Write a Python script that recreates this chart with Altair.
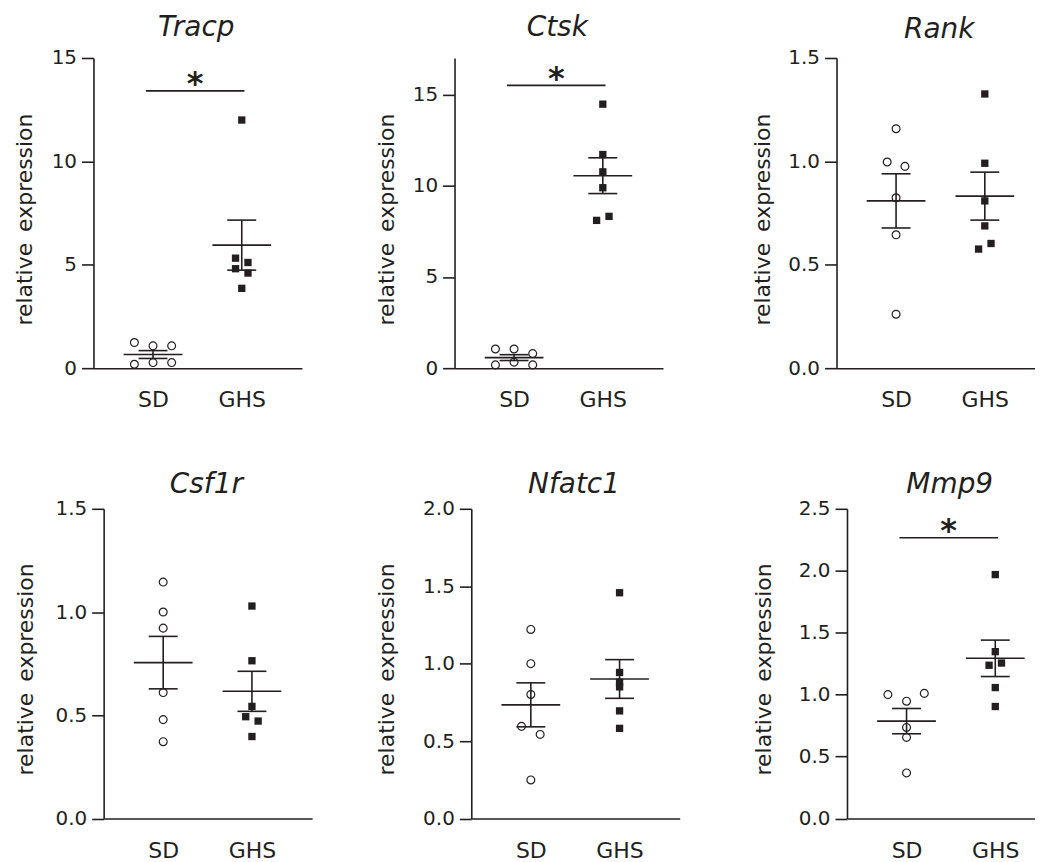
import altair as alt
import pandas as pd

# ---------------- data ----------------
groups = ["SD", "GHS"]
genes = ["Tracp", "Ctsk", "Rank", "Csf1r", "Nfatc1", "Mmp9"]
y_title = "relative\u2002expression"

tracp_sd = [1.24, 1.08, 1.08, 0.19, 0.27, 0.27]
tracp_ghs = [12.0, 5.32, 5.11, 4.81, 4.60, 3.86]
ctsk_sd = [1.05, 1.05, 0.80, 0.18, 0.33, 0.18]
ctsk_ghs = [14.47, 11.71, 10.76, 9.89, 8.10, 8.32]
rank_sd = [1.158, 0.997, 0.976, 0.824, 0.645, 0.261]
rank_ghs = [1.326, 0.991, 0.809, 0.688, 0.576, 0.603]
csf1r_sd = [1.145, 1.0, 0.922, 0.61, 0.479, 0.372]
csf1r_ghs = [1.029, 0.764, 0.543, 0.493, 0.472, 0.397]
nfatc1_sd = [1.221, 1.0, 0.801, 0.595, 0.543, 0.249]
nfatc1_ghs = [1.458, 0.943, 0.88, 0.85, 0.695, 0.582]
mmp9_sd = [1.0, 1.01, 0.947, 0.735, 0.655, 0.368]
mmp9_ghs = [1.969, 1.347, 1.237, 1.255, 1.057, 0.904]

# mean and SEM (SD, GHS) as drawn
tracp_mean, tracp_sem = [0.66, 5.95], [0.19, 1.21]
ctsk_mean, ctsk_sem = [0.58, 10.55], [0.16, 0.98]
rank_mean, rank_sem = [0.809, 0.832], [0.131, 0.116]
csf1r_mean, csf1r_sem = [0.755, 0.616], [0.127, 0.097]
nfatc1_mean, nfatc1_sem = [0.734, 0.901], [0.142, 0.125]
mmp9_mean, mmp9_sem = [0.786, 1.293], [0.102, 0.147]

# significance bar heights (data units)
tracp_sig = 13.41
ctsk_sig = 15.5
mmp9_sig = 2.266

# y axis tick values and axis maxima
tracp_ticks, tracp_max = [0, 5, 10, 15], 15
ctsk_ticks, ctsk_max = [0, 5, 10, 15], 17
rank_ticks, rank_max = [0.0, 0.5, 1.0, 1.5], 1.5
csf1r_ticks, csf1r_max = [0.0, 0.5, 1.0, 1.5], 1.5
nfatc1_ticks, nfatc1_max = [0.0, 0.5, 1.0, 1.5, 2.0], 2.0
mmp9_ticks, mmp9_max = [0.0, 0.5, 1.0, 1.5, 2.0, 2.5], 2.5

# ---------------- layout / style ----------------
# horizontal scatter offsets of the dots (group units), as in the figure
jit_3 = [-0.21, 0.0, 0.21, -0.21, 0.0, 0.21]
jit_none = [0.0] * 6

INK = "#231f20"
FONT = "DejaVu Sans"
XDOM = [-0.671, 1.678]
W = 209
MEAN_HW = 0.331
CAP_HW = 0.163
LW = 1.6


def panel(gene, sd, ghs, jsd, jghs, means, sems, ymax, ticks, fmt,
          title_x, title_y, title_off, height, sig=None):
    pts = pd.DataFrame({
        "gidx": [0] * len(sd) + [1] * len(ghs),
        "jit": jsd + jghs,
        "value": sd + ghs,
    })
    summ = pd.DataFrame({"gidx": [0, 1], "mean": means, "sem": sems})
    lab = pd.DataFrame({"gene": [gene], "ytitle": [y_title]})

    xax = alt.Axis(values=[0, 1],
                   labelExpr=f"datum.value == 0 ? '{groups[0]}' : '{groups[1]}'",
                   title=None, ticks=False, tickSize=0, grid=False,
                   domainColor=INK, domainWidth=LW, labelPadding=21.7,
                   labelFont=FONT, labelFontSize=22, labelColor=INK)
    yax = alt.Axis(values=ticks, format=fmt, grid=False, title=None,
                   domainColor=INK, domainWidth=LW, tickColor=INK, tickWidth=LW,
                   tickSize=12, labelPadding=5, labelFont=FONT, labelFontSize=20,
                   labelColor=INK)

    def X(f):
        return alt.X(f, type="quantitative",
                     scale=alt.Scale(domain=XDOM, nice=False, zero=False), axis=xax)

    def Y(f):
        return alt.Y(f, type="quantitative",
                     scale=alt.Scale(domain=[0, ymax], nice=False, zero=True), axis=yax)

    bp = alt.Chart(pts).transform_calculate(xp="datum.gidx + datum.jit")
    sd_l = bp.transform_filter("datum.gidx == 0").mark_point(
        shape="circle", filled=False, size=62, stroke=INK, strokeWidth=1.2, opacity=1
    ).encode(x=X("xp"), y=Y("value"))
    ghs_l = bp.transform_filter("datum.gidx == 1").mark_point(
        shape="square", filled=True, size=54, fill=INK, opacity=1, strokeWidth=0
    ).encode(x=X("xp"), y=Y("value"))

    bs = alt.Chart(summ).transform_calculate(
        lo="datum.mean - datum.sem", hi="datum.mean + datum.sem",
        ml=f"datum.gidx - {MEAN_HW}", mr=f"datum.gidx + {MEAN_HW}",
        cl=f"datum.gidx - {CAP_HW}", cr=f"datum.gidx + {CAP_HW}")
    rule = dict(color=INK, strokeWidth=LW)
    mean_l = bs.mark_rule(**rule).encode(x=X("ml"), x2="mr", y=Y("mean"))
    hi_l = bs.mark_rule(**rule).encode(x=X("cl"), x2="cr", y=Y("hi"))
    lo_l = bs.mark_rule(**rule).encode(x=X("cl"), x2="cr", y=Y("lo"))
    v_l = bs.mark_rule(**rule).encode(x=X("gidx"), y=Y("lo"), y2="hi")

    lc = alt.Chart(lab)
    gene_t = lc.mark_text(font=FONT, fontSize=28, fontStyle="italic", color=INK,
                          align="center", baseline="alphabetic").encode(
        x=alt.value(W / 2 - 1.5), y=alt.value(-title_off), text="gene:N")
    ytit = lc.mark_text(font=FONT, fontSize=22, color=INK, angle=270,
                        align="center", baseline="alphabetic").encode(
        x=alt.value(title_x), y=alt.value(title_y), text="ytitle:N")

    layers = [sd_l, ghs_l, mean_l, hi_l, lo_l, v_l, gene_t, ytit]
    if sig is not None:
        sdf = pd.DataFrame({"x1": [-0.08], "x2": [1.03], "xm": [0.475], "y": [sig], "t": ["*"]})
        sc = alt.Chart(sdf)
        layers.append(sc.mark_rule(**rule).encode(x=X("x1"), x2="x2", y=Y("y")))
        layers.append(sc.mark_text(font=FONT, fontSize=32, fontWeight="bold",
                                   baseline="alphabetic", align="center", dy=3.5,
                                   color=INK)
                      .encode(x=X("xm"), y=Y("y"), text="t:N"))

    return alt.layer(*layers).properties(width=W, height=height)


p1 = panel(genes[0], tracp_sd, tracp_ghs, jit_3, [0, -0.07, 0.07, -0.07, 0.07, 0],
           tracp_mean, tracp_sem, tracp_max, tracp_ticks, "d", -61.3, 162, 21.6, 311, tracp_sig)
p2 = panel(genes[1], ctsk_sd, ctsk_ghs, jit_3, [0, 0, 0, 0, -0.07, 0.07],
           ctsk_mean, ctsk_sem, ctsk_max, ctsk_ticks, "d", -60.7, 162, 22.3, 311, ctsk_sig)
p3 = panel(genes[2], rank_sd, rank_ghs, [0, -0.10, 0.10, 0, 0, 0], [0, 0, 0, 0, -0.07, 0.07],
           rank_mean, rank_sem, rank_max, rank_ticks, ".1f", -67, 162, 20, 311)
p4 = panel(genes[3], csf1r_sd, csf1r_ghs, jit_none, [0, 0, 0, -0.07, 0.07, 0],
           csf1r_mean, csf1r_sem, csf1r_max, csf1r_ticks, ".1f", -71, 161, 15.7, 310.5)
p5 = panel(genes[4], nfatc1_sd, nfatc1_ghs, [0, 0, 0, -0.105, 0.105, 0], jit_none,
           nfatc1_mean, nfatc1_sem, nfatc1_max, nfatc1_ticks, ".1f", -77, 161, 15.7, 310.5)
p6 = panel(genes[5], mmp9_sd, mmp9_ghs, [-0.21, 0.20, 0, 0, 0, 0], [0, 0, -0.07, 0.07, 0, 0],
           mmp9_mean, mmp9_sem, mmp9_max, mmp9_ticks, ".1f", -76, 161, 15.7, 310.5, mmp9_sig)

# tiny invisible cell that lets the lower row sit a little to the right
spacer = alt.Chart(pd.DataFrame({"a": [0]})).mark_point(size=0, opacity=0).encode(
    x=alt.value(0), y=alt.value(0)).properties(width=1, height=1)

top = alt.hconcat(alt.hconcat(p1, p2, spacing=72), p3, spacing=87)
bottom_inner = alt.hconcat(alt.hconcat(p4, p5, spacing=62.6), p6, spacing=71.3)
bottom = alt.hconcat(spacer, bottom_inner, spacing=-81.8)

chart = alt.vconcat(top, bottom, spacing=58).properties(
    padding={"left": 5.7, "top": 4, "right": -21, "bottom": 0}
).configure_view(stroke="transparent")

chart.save("out.html", embed_options={"renderer": "svg", "actions": False})
